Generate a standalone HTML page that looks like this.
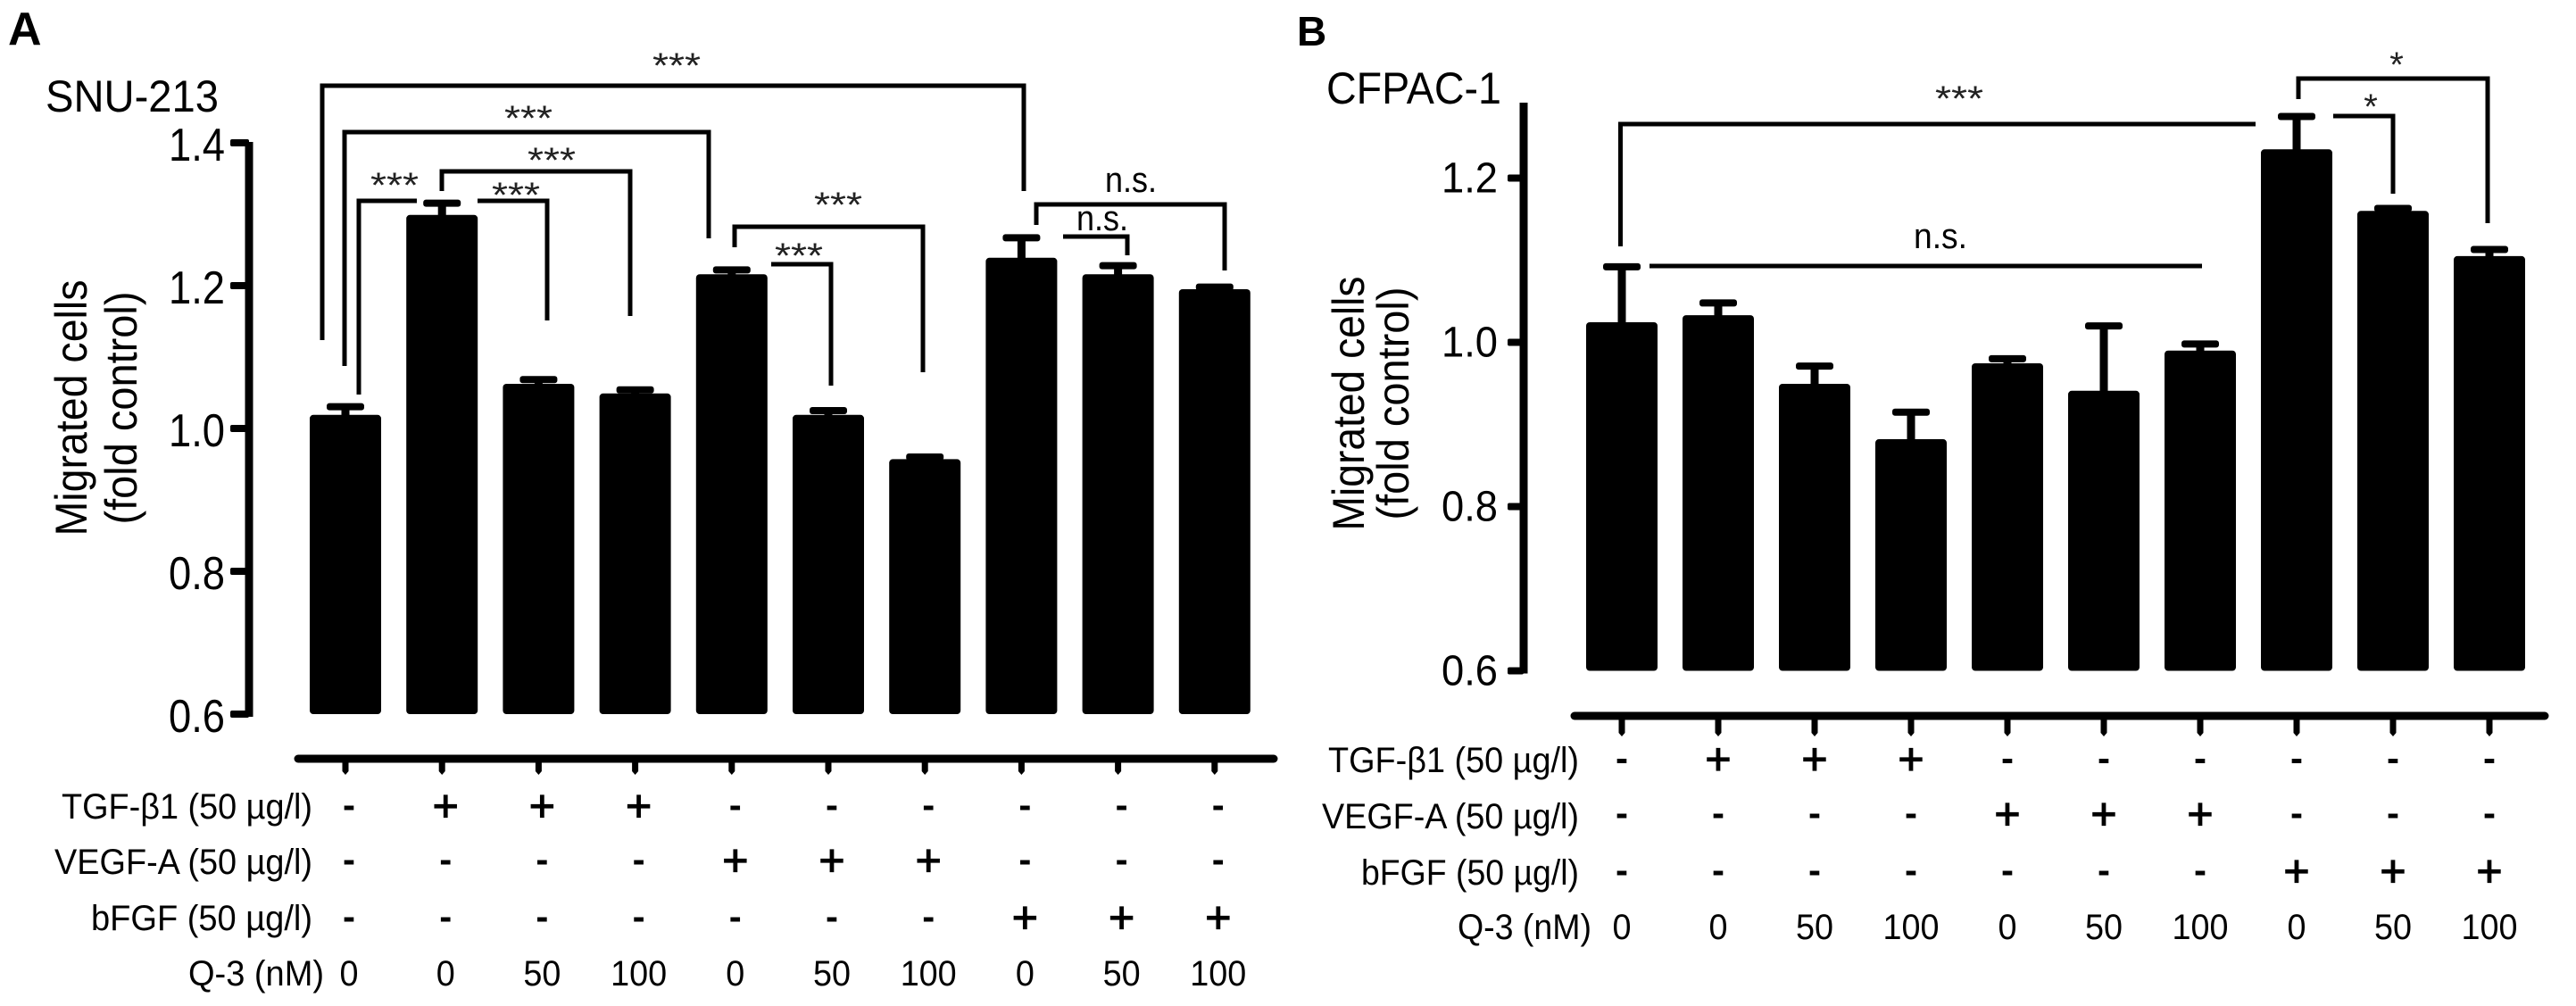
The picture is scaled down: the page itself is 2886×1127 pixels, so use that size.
<!DOCTYPE html>
<html lang="en">
<head>
<meta charset="utf-8">
<title>Migrated cells: SNU-213 and CFPAC-1</title>
<style>
html,body{margin:0;padding:0;background:#fff;width:2886px;height:1127px;overflow:hidden}
svg{display:block}
text{font-family:"Liberation Sans",Arial,sans-serif;fill:#000}
.br{fill:none;stroke:#000;stroke-width:5;stroke-linejoin:miter}
.star{font-size:40px;fill:#222;text-anchor:middle}
.ns{font-size:40px;text-anchor:middle}
.row{font-size:40px;text-anchor:end}
.title{font-size:50px;text-anchor:middle}
.ttl{font-size:50px}
.letter{font-size:52px;font-weight:bold}
</style>
</head>
<body>
<svg id="fig" xmlns="http://www.w3.org/2000/svg" width="2886" height="1127" viewBox="0 0 2886 1127">
  <rect width="2886" height="1127" fill="#fff"/>

  <g id="panelA">
    <text class="letter" x="9" y="50">A</text>
    <text class="ttl" x="51" y="125" textLength="194" lengthAdjust="spacingAndGlyphs">SNU-213</text>
    <text class="title" transform="translate(97,457) rotate(-90)" textLength="287" lengthAdjust="spacingAndGlyphs">Migrated cells</text>
    <text class="title" transform="translate(153,457) rotate(-90)" textLength="261" lengthAdjust="spacingAndGlyphs">(fold control)</text>

    <path class="br" d="M361 381V96H1147V214"/>
    <path class="br" d="M386 410V148H794V267"/>
    <path class="br" d="M402 442V225H467"/>
    <path class="br" d="M535 225H613V359"/>
    <path class="br" d="M495 214V192H706V354"/>
    <path class="br" d="M823 277V254H1034V417"/>
    <path class="br" d="M864 296H931V432"/>
    <path class="br" d="M1161 252V229H1372V303"/>
    <path class="br" d="M1191 265H1263V286"/>

    <text class="star" x="758" y="87" textLength="54" lengthAdjust="spacingAndGlyphs">***</text>
    <text class="star" x="592" y="146" textLength="54" lengthAdjust="spacingAndGlyphs">***</text>
    <text class="star" x="442" y="221" textLength="54" lengthAdjust="spacingAndGlyphs">***</text>
    <text class="star" x="578" y="232" textLength="54" lengthAdjust="spacingAndGlyphs">***</text>
    <text class="star" x="618" y="193" textLength="54" lengthAdjust="spacingAndGlyphs">***</text>
    <text class="star" x="939" y="243" textLength="54" lengthAdjust="spacingAndGlyphs">***</text>
    <text class="star" x="895" y="300" textLength="54" lengthAdjust="spacingAndGlyphs">***</text>
    <text class="ns" x="1267" y="215" textLength="58" lengthAdjust="spacingAndGlyphs">n.s.</text>
    <text class="ns" x="1235" y="258" textLength="58" lengthAdjust="spacingAndGlyphs">n.s.</text>

    <text class="row" x="350" y="917" textLength="281" lengthAdjust="spacingAndGlyphs">TGF-β1 (50 µg/l)</text>
    <text class="row" x="350" y="979" textLength="289" lengthAdjust="spacingAndGlyphs">VEGF-A (50 µg/l)</text>
    <text class="row" x="350" y="1042" textLength="248" lengthAdjust="spacingAndGlyphs">bFGF (50 µg/l)</text>
    <text class="row" x="363" y="1104" textLength="152" lengthAdjust="spacingAndGlyphs">Q-3 (nM)</text>
  </g>

  <g id="panelB">
    <text class="letter" x="1453" y="51" style="font-size:46px">B</text>
    <text class="ttl" x="1486" y="116" textLength="196" lengthAdjust="spacingAndGlyphs">CFPAC-1</text>
    <text class="title" transform="translate(1528,452) rotate(-90)" textLength="285" lengthAdjust="spacingAndGlyphs">Migrated cells</text>
    <text class="title" transform="translate(1578,452) rotate(-90)" textLength="261" lengthAdjust="spacingAndGlyphs">(fold control)</text>

    <path class="br" d="M1815.500 276V139H2527"/>
    <path class="br" d="M1848 298H2467"/>
    <path class="br" d="M2575 111V88H2787V250"/>
    <path class="br" d="M2614 130H2681V217"/>

    <text class="star" x="2195" y="124" textLength="54" lengthAdjust="spacingAndGlyphs">***</text>
    <text class="star" x="2685" y="86">*</text>
    <text class="star" x="2656" y="133">*</text>
    <text class="ns" x="2174" y="278" textLength="60" lengthAdjust="spacingAndGlyphs">n.s.</text>

    <text class="row" x="1769" y="865" textLength="281" lengthAdjust="spacingAndGlyphs">TGF-β1 (50 µg/l)</text>
    <text class="row" x="1769" y="928" textLength="288" lengthAdjust="spacingAndGlyphs">VEGF-A (50 µg/l)</text>
    <text class="row" x="1769" y="991" textLength="244" lengthAdjust="spacingAndGlyphs">bFGF (50 µg/l)</text>
    <text class="row" x="1783" y="1052" textLength="150" lengthAdjust="spacingAndGlyphs">Q-3 (nM)</text>
  </g>
</svg>

<script>
const yTickValues = [0.6, 0.8, 1.0, 1.2, 1.4];
const yTickLabelsA = ['0.6', '0.8', '1.0', '1.2', '1.4'];
const yTickValuesB = [0.6, 0.8, 1.0, 1.2];
const yTickLabelsB = ['0.6', '0.8', '1.0', '1.2'];

const valuesA = [1.019, 1.299, 1.0625, 1.049, 1.216, 1.019, 0.957, 1.239, 1.216, 1.195];
const errorsA = [0.0115, 0.0165, 0.006, 0.005, 0.006, 0.006, 0.003, 0.028, 0.012, 0.003];

const valuesB = [1.0245, 1.033, 0.9495, 0.882, 0.9745, 0.941, 0.99, 1.235, 1.16, 1.105];
const errorsB = [0.0675, 0.015, 0.0215, 0.033, 0.0055, 0.079, 0.008, 0.04, 0.003, 0.008];

const tgfRow = ['-', '+', '+', '+', '-', '-', '-', '-', '-', '-'];
const vegfRow = ['-', '-', '-', '-', '+', '+', '+', '-', '-', '-'];
const bfgfRow = ['-', '-', '-', '-', '-', '-', '-', '+', '+', '+'];
const q3Row = ['0', '0', '50', '100', '0', '50', '100', '0', '50', '100'];

const SVG_NS = 'http://www.w3.org/2000/svg';

function mk(parent, tag, attrs, txt) {
  const el = document.createElementNS(SVG_NS, tag);
  for (const k in attrs) el.setAttribute(k, attrs[k]);
  if (txt !== undefined) el.textContent = txt;
  parent.appendChild(el);
  return el;
}

function drawPanel(cfg) {
  const root = document.getElementById(cfg.id);
  const y = v => cfg.y06 - (v - 0.6) / 0.2 * cfg.yStep;
  const x = i => cfg.x0 + cfg.step * i;

  // y axis
  const spine = mk(root, 'rect', {x: cfg.spineX - 4.5, y: cfg.spineTop, width: 9, height: cfg.y06 - cfg.spineTop + 3, fill: '#000'});
  
  

  cfg.yTicks.forEach((v, i) => {
    const tick = mk(root, 'rect', {x: cfg.tickLeft, y: y(v) - 4, width: cfg.spineX - cfg.tickLeft, height: 8, rx: 2, fill: '#000'});
    
    
    const label = mk(root, 'text', {x: cfg.labelRight, y: y(v) + cfg.labelDy, 'text-anchor': 'end', 'font-size': cfg.labelSize, textLength: 63, lengthAdjust: 'spacingAndGlyphs'}, cfg.yLabels[i]);
    
    
  });

  // x axis
  const xAxis = mk(root, 'line', {x1: cfg.axisX1, x2: cfg.axisX2, y1: cfg.axisY, y2: cfg.axisY, stroke: '#000', 'stroke-width': 9, 'stroke-linecap': 'round'});
  
  

  cfg.values.forEach((v, i) => {
    const cx = x(i);
    const top = y(v);
    const bar = mk(root, 'rect', {x: cx - 40, y: top, width: 80, height: cfg.y06 - top, rx: 4, fill: '#000'});
    
    

    const capY = y(v + cfg.errors[i]);
    const stem = mk(root, 'rect', {x: cx - 4.5, y: capY, width: 9, height: top - capY + 2, fill: '#000'});
    
    
    const cap = mk(root, 'rect', {x: cx - 21, y: capY - 4, width: 42, height: 8, rx: 3, fill: '#000'});
    
    

    const xt = mk(root, 'path', {d: 'M' + (cx - 3.5) + ' ' + cfg.axisY + 'V' + (cfg.tickBottom - 4) + 'L' + cx + ' ' + cfg.tickBottom + 'L' + (cx + 3.5) + ' ' + (cfg.tickBottom - 4) + 'V' + cfg.axisY + 'Z', fill: '#000'});
    
    
  });

  // treatment rows
  [[tgfRow, 'tgf'], [vegfRow, 'vegf'], [bfgfRow, 'bfgf']].forEach((r, ri) => {
    r[0].forEach((sym, i) => {
      const isPlus = sym === '+';
      const t = mk(root, 'text', {
        x: x(i) + cfg.rowDx,
        y: cfg.rowY[ri] + (isPlus ? 17 : 13),
        'text-anchor': 'middle',
        'font-size': isPlus ? 50 : 42,
        'font-weight': isPlus ? 'normal' : 'bold',
        stroke: isPlus ? '#000' : 'none',
        'stroke-width': isPlus ? 1.2 : 0
      }, sym);
      
      
    });
  });
  q3Row.forEach((dose, i) => {
    const t = mk(root, 'text', {x: x(i) + cfg.rowDx, y: cfg.q3Y, 'text-anchor': 'middle', 'font-size': 40, textLength: dose.length * 21, lengthAdjust: 'spacingAndGlyphs'}, dose);
    
    
  });
}

drawPanel({
  id: 'panelA', prefix: 'a', values: valuesA, errors: errorsA,
  yTicks: yTickValues, yLabels: yTickLabelsA,
  y06: 800, yStep: 160, x0: 387, step: 108.2,
  spineX: 279, spineTop: 159, tickLeft: 258, labelRight: 252, labelDy: 20, labelSize: 52,
  axisX1: 334, axisX2: 1427, axisY: 850, tickBottom: 868,
  rowY: [903, 964, 1028], q3Y: 1104, rowDx: 4
});

drawPanel({
  id: 'panelB', prefix: 'b', values: valuesB, errors: errorsB,
  yTicks: yTickValuesB, yLabels: yTickLabelsB,
  y06: 751.5, yStep: 184, x0: 1817, step: 108,
  spineX: 1707, spineTop: 115, tickLeft: 1689, labelRight: 1678, labelDy: 16, labelSize: 48,
  axisX1: 1764, axisX2: 2851, axisY: 802, tickBottom: 825,
  rowY: [850.5, 912, 976], q3Y: 1052, rowDx: 0
});
</script>
</body>
</html>
